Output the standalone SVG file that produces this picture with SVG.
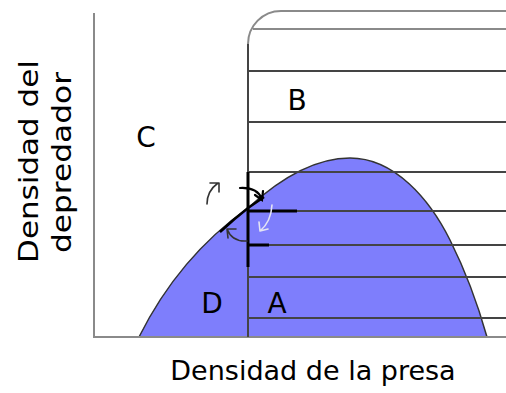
<svg xmlns="http://www.w3.org/2000/svg" width="506" height="393" viewBox="0 0 506 393">
<style>
.axis{stroke:#8a8a8a;stroke-width:2;fill:none}
.hl{stroke:#444;stroke-width:2;fill:none}
.top{stroke:#8a8a8a;stroke-width:2;fill:none}
.blk{stroke:#000;stroke-width:3;fill:none}
.arr{stroke:#333;stroke-width:1.6;fill:none;stroke-linecap:round;stroke-linejoin:round}
.arrw{stroke:#e4e4f4;stroke-width:1.6;fill:none;stroke-linecap:round;stroke-linejoin:round}
.lbl{font-family:"DejaVu Sans",Verdana,sans-serif;font-size:28px;fill:#000;text-anchor:middle}
.ax{font-family:"DejaVu Sans",Verdana,sans-serif;font-size:27px;fill:#000;text-anchor:middle}
</style>
<rect width="506" height="393" fill="#fff"/>
<g id="hump">
<path d="M139,337 C165,285 200,242 248,208 C285,174 320,158 350,158 C395,158 430,200 450,240 C465,270 478,305 487,337 Z" fill="#7e7efc" stroke="#333" stroke-width="1.5"/>
</g>
<g id="axes">
<path class="axis" d="M94,13 V337 H506"/>
</g>
<g id="isocline">
<path class="top" d="M248,337 V44 A33,33 0 0 1 281,11 H506"/>
<path class="top" d="M253,29 H506"/>
<path class="hl" d="M248,71 H506 M248,122 H506 M248,172 H506 M248,211 H506 M248,245 H506 M248,277 H506 M248,318 H506"/>
<path class="hl" d="M248,44 V337"/>
<path class="blk" d="M248,172 V267 M248,211 H297 M248,245 H269"/>
<path d="M220,232 Q234,219 248,208 L264,197" stroke="#000" stroke-width="2.5" fill="none"/>
</g>
<g id="arrows">
<path class="arr" d="M207,204 Q207,191 218,183 M210,183 L219,183 L219,192"/>
<path d="M240,188 Q257,187 262,199 M255,195 L262,200 L263,191" stroke="#000" stroke-width="2.2" fill="none" stroke-linecap="round"/>
<path class="arrw" d="M272,205 Q271,222 260,231 M259,222 L260,231 L268,229"/>
<path class="arr" d="M247,241 Q232,242 227,229 M236,229 L227,229 L228,238"/>
</g>
<g id="labels">
<text class="lbl" x="297" y="110">B</text>
<text class="lbl" x="146" y="147">C</text>
<text class="lbl" x="212" y="313">D</text>
<text class="lbl" x="277" y="313">A</text>
<text class="ax" x="313" y="380">Densidad de la presa</text>
<text class="ax" transform="translate(38,161.5) rotate(-90)" x="0" y="0" textLength="203" lengthAdjust="spacingAndGlyphs">Densidad del</text>
<text class="ax" transform="translate(70.5,162.5) rotate(-90)" x="0" y="0" textLength="181" lengthAdjust="spacingAndGlyphs">depredador</text>
</g>
</svg>
